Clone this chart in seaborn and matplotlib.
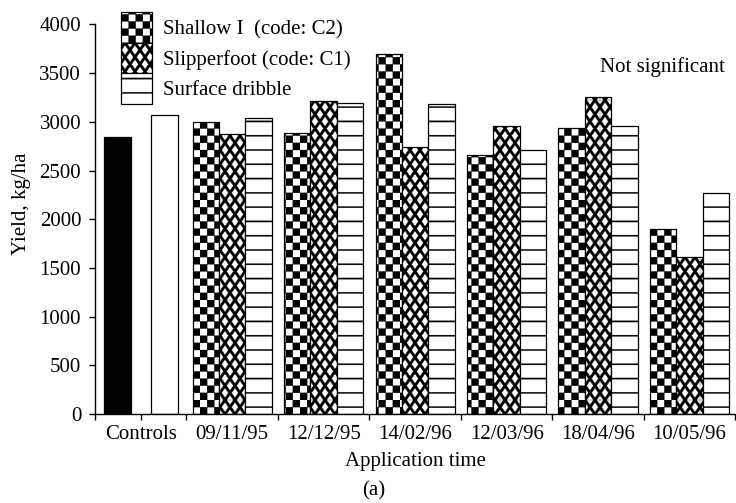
import numpy as np
import pandas as pd
import matplotlib
matplotlib.use("Agg")
import matplotlib.pyplot as plt
import matplotlib.hatch as mhatch
from matplotlib.patches import Patch
from matplotlib.path import Path
import seaborn as sns


DATES = ["Controls", "09/11/95", "12/12/95", "14/02/96", "12/03/96", "18/04/96", "10/05/96"]
CONTROLS = ["Control (black)", "Control (white)"]
CONTROL_YIELD = [2840, 3070]
METHODS = ["Shallow I  (code: C2)", "Slipperfoot (code: C1)", "Surface dribble"]
SHALLOW = [3000, 2890, 3700, 2660, 2940, 1900]
SLIPPERFOOT = [2880, 3210, 2740, 2960, 3260, 1610]
SURFACE = [3040, 3190, 3180, 2710, 2960, 2270]
Y_TICKS = [0, 500, 1000, 1500, 2000, 2500, 3000, 3500, 4000]

HATCHES = ["*", "O", "-"]   # remapped below: checker, cross/diamond, rules
FONT = ["Liberation Serif", "DejaVu Serif"]
FS = 15

MOVE, LINE, CLOSE = Path.MOVETO, Path.LINETO, Path.CLOSEPOLY
SQ_CODES = [MOVE, LINE, LINE, LINE, CLOSE]


def _rect(x0, y0, x1, y1):
    return [(x0, y0), (x1, y0), (x1, y1), (x0, y1), (x0, y0)]


# custom hatch fills (one hatch tile = 1 inch)
class StripeHatch(mhatch.HatchPatternBase):
    def __init__(self, hatch, density):
        self.n = 7 * hatch.count("-")
        self.num_vertices = 5 * self.n

    def set_vertices_and_codes(self, vertices, codes):
        t = 0.0065
        pts = []
        for k in range(self.n):
            y = (k + 0.5) / self.n
            pts += _rect(0, y - t, 1, y + t)
        vertices[:] = pts
        codes[:] = SQ_CODES * self.n


class CheckerHatch(mhatch.HatchPatternBase):
    def __init__(self, hatch, density):
        self.n = 14 if "*" in hatch else 0
        self.num_vertices = 5 * (self.n * self.n // 2)

    def set_vertices_and_codes(self, vertices, codes):
        s = 1.0 / self.n
        pts = []
        for i in range(self.n):
            for j in range(self.n):
                if (i + j) % 2 == 0:
                    pts += _rect(i * s, j * s, (i + 1) * s, (j + 1) * s)
        vertices[:] = pts
        codes[:] = SQ_CODES * (len(pts) // 5)


class DiamondHatch(mhatch.HatchPatternBase):
    nx, ny = 10, 7

    def __init__(self, hatch, density):
        self.centres = []
        if "O" in hatch:
            self.centres = [(i / self.nx, j / self.ny)
                            for i in range(self.nx + 1) for j in range(self.ny + 1)]
            self.centres += [((i + 0.5) / self.nx, (j + 0.5) / self.ny)
                             for i in range(self.nx) for j in range(self.ny)]
        self.num_vertices = 5 * (len(self.centres) + 1) if self.centres else 0

    def set_vertices_and_codes(self, vertices, codes):
        hx, hy = 0.34 / self.nx, 0.34 / self.ny
        pts = _rect(0, 0, 1, 1)
        for cx, cy in self.centres:
            # clockwise -> white hole in the black tile
            pts += [(cx, cy - hy), (cx - hx, cy), (cx, cy + hy), (cx + hx, cy), (cx, cy - hy)]
        vertices[:] = pts
        codes[:] = SQ_CODES * (len(pts) // 5)


mhatch._hatch_types = [StripeHatch, CheckerHatch, DiamondHatch]

sns.set_theme(style="ticks", rc={
    "axes.spines.top": False,
    "axes.spines.right": False,
    "axes.edgecolor": "black",
    "axes.linewidth": 1.0,
    "xtick.color": "black",
    "ytick.color": "black",
    "text.color": "black",
    "axes.labelcolor": "black",
    "hatch.color": "black",
    "hatch.linewidth": 0.2,
})
plt.rcParams["font.family"] = FONT

methods = pd.DataFrame({
    "date": DATES[1:] * 3,
    "method": np.repeat(METHODS, len(DATES) - 1),
    "yield": SHALLOW + SLIPPERFOOT + SURFACE,
})
controls = pd.DataFrame({"date": [DATES[0]] * 2, "control": CONTROLS, "yield": CONTROL_YIELD})

fig = plt.figure(figsize=(7.36, 5.03), dpi=100)
ax = fig.add_axes([0.1291, 0.1769, 0.870, 0.7744])

sns.barplot(data=methods, x="date", y="yield", hue="method", order=DATES, hue_order=METHODS,
            palette={m: "white" for m in METHODS}, width=0.867, saturation=1,
            edgecolor="black", linewidth=0.9, errorbar=None, legend=False, ax=ax)
for container, hatch in zip(ax.containers, HATCHES):
    for bar in container:
        bar.set_hatch(hatch)

sns.barplot(data=controls, x="date", y="yield", hue="control", order=DATES, hue_order=CONTROLS,
            palette=dict(zip(CONTROLS, ["black", "white"])), width=1.02, gap=0.42, saturation=1,
            edgecolor="black", linewidth=0.9, errorbar=None, legend=False, ax=ax)

ax.set_ylim(0, 4000)
ax.set_yticks(Y_TICKS)
ax.set_yticklabels([str(v) for v in Y_TICKS], fontsize=FS)
ax.set_xlim(-0.5, len(DATES) - 0.5)
ax.xaxis.remove_overlapping_locs = False
bounds = list(np.arange(-0.5, len(DATES))) + [0]
ax.set_xticks(bounds, [""] * len(bounds))
ax.set_xticks(np.arange(len(DATES)), DATES, minor=True, fontsize=FS)
ax.tick_params(axis="both", which="major", direction="out", length=4, width=1)
ax.tick_params(axis="y", pad=6)
ax.tick_params(axis="x", which="minor", length=0, pad=8)

ax.set_ylabel("Yield, kg/ha", fontsize=FS)
ax.yaxis.set_label_coords(-0.1, 0.54)
ax.set_xlabel("Application time", fontsize=FS)
ax.xaxis.set_label_coords(0.5, -0.098)

handles = [Patch(facecolor="white", edgecolor="black", hatch=h, linewidth=0.9) for h in HATCHES]
ax.legend(handles, METHODS, loc="upper left", bbox_to_anchor=(0.04, 1.032), frameon=False,
          handlelength=1.5, handleheight=1.88, handletextpad=0.53, labelspacing=0.0,
          borderpad=0, borderaxespad=0, fontsize=FS)

ax.text(0.984, 0.891, "Not significant", transform=ax.transAxes, ha="right", va="center", fontsize=FS)
fig.text(374 / 736, 1 - 491 / 503, "(a)", ha="center", va="center", fontsize=FS)

fig.savefig("out.png", dpi=100)
